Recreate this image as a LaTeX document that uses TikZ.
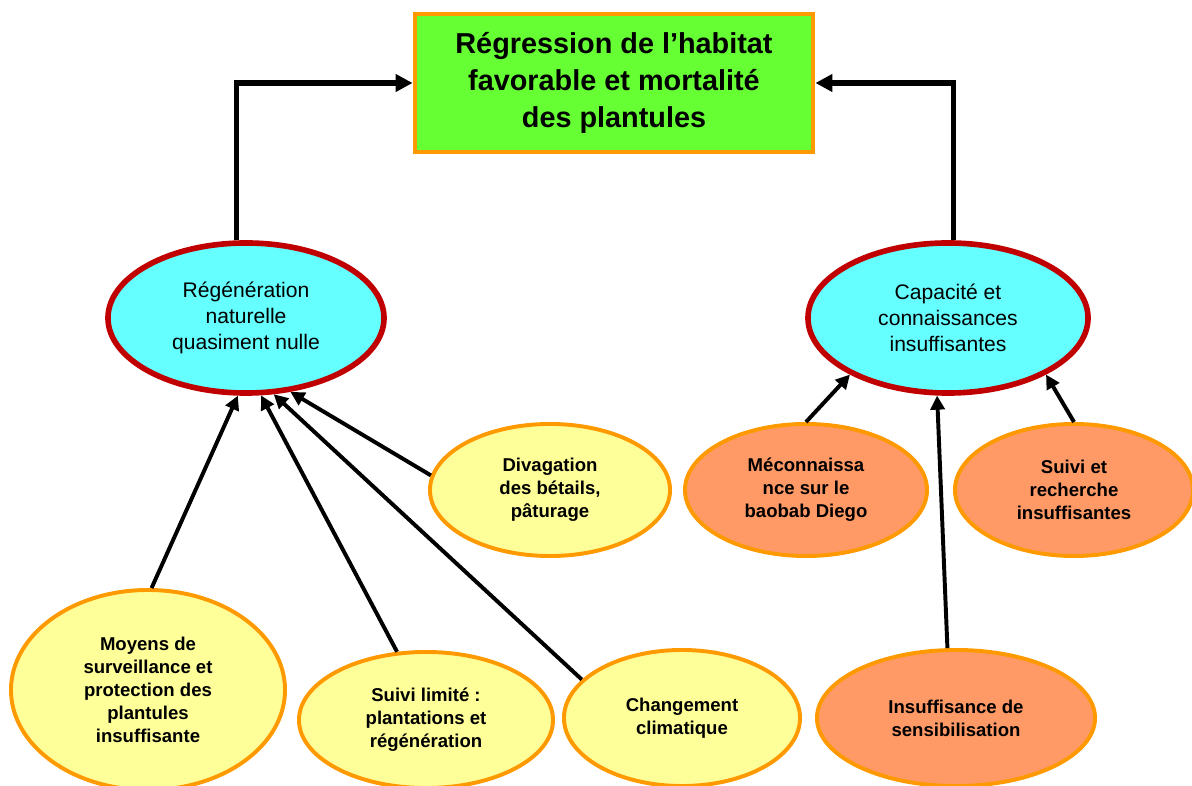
\documentclass[tikz,border=0pt]{standalone}
\usepackage{fontspec}
\setmainfont{Liberation Sans}
\usepackage{tikz}
\usetikzlibrary{shapes.geometric}
\usetikzlibrary{arrows.meta}
\definecolor{vertfond}{HTML}{66FF33}
\definecolor{orangebord}{HTML}{FF9900}
\definecolor{cyanfond}{HTML}{66FFFF}
\definecolor{rougebord}{HTML}{C00000}
\definecolor{jaunefond}{HTML}{FFFF99}
\definecolor{saumonfond}{HTML}{FF9966}

\begin{document}
\begin{tikzpicture}[x=0.025cm,y=-0.025cm,
	probleme/.style={rectangle,draw=orangebord,fill=vertfond,line width=3.4pt,inner sep=0pt,align=center,font=\fontsize{20.5}{26.3}\selectfont\bfseries},
	effet/.style={ellipse,draw=rougebord,fill=cyanfond,line width=4pt,inner sep=0pt,align=center,font=\fontsize{15}{18.5}\selectfont},
	cause/.style={ellipse,draw=orangebord,fill=jaunefond,line width=2.8pt,inner sep=0pt,align=center,font=\fontsize{13.2}{16.4}\selectfont\bfseries},
	causeb/.style={cause,fill=saumonfond},
	fleche/.style={line width=2.8pt,-{Triangle[length=10pt,width=10pt]}},
	flechehaut/.style={line width=4pt,-{Triangle[length=12pt,width=12pt]}}]
	\useasboundingbox (0,0) rectangle (1192,786);
	% probleme central
	\node[probleme,minimum width=9.95cm,minimum height=3.45cm] (titre) at (614,83) {R\'egression de l'habitat\\favorable et mortalit\'e\\des plantules};
	% effets
	\node[effet,minimum width=6.9cm,minimum height=3.75cm] (regen) at (246,318) {R\'eg\'en\'eration\\naturelle\\quasiment nulle};
	\node[effet,minimum width=7.0cm,minimum height=3.75cm] (capac) at (948,318) {Capacit\'e et\\connaissances\\insuffisantes};
	% causes
	\node[cause,minimum width=6.0cm,minimum height=3.3cm] (divag) at (550,490) {Divagation\\des b\'etails,\\p\^aturage};
	\node[cause,minimum width=6.85cm,minimum height=5.0cm] (moyens) at (148,690) {Moyens de\\surveillance et\\protection des\\plantules\\insuffisante};
	\node[cause,minimum width=6.35cm,minimum height=3.4cm] (suivi) at (426,720) {Suivi limit\'e :\\plantations et\\r\'eg\'en\'eration};
	\node[cause,minimum width=5.9cm,minimum height=3.4cm] (climat) at (682,718) {Changement\\climatique};
	\node[causeb,minimum width=6.05cm,minimum height=3.3cm] (mecon) at (806,490) {M\'econnaissa\\nce sur le\\baobab Diego};
	\node[causeb,minimum width=5.95cm,minimum height=3.3cm] (recherche) at (1074,490) {Suivi et\\recherche\\insuffisantes};
	\node[causeb,minimum width=6.95cm,minimum height=3.4cm] (sensib) at (956,718) {Insuffisance de\\sensibilisation};
	% liens
	\draw[flechehaut] (regen.97) |- (titre.west);
	\draw[flechehaut] (capac.86) |- (titre.east);
	\draw[fleche] (moyens.88) -- (regen.-96);
	\draw[fleche] (suivi.113) -- (regen.-79);
	\draw[fleche] (climat.159) -- (regen.-70);
	\draw[fleche] (divag.173) -- (regen.-59);
	\draw[fleche] (mecon.90) -- (capac.-150);
	\draw[fleche] (recherche.90) -- (capac.-30);
	\draw[fleche] (sensib.97) -- (capac.-98);
\end{tikzpicture}
\end{document}
